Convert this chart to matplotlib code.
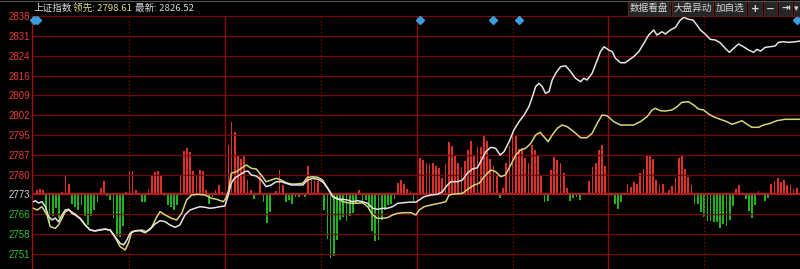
import matplotlib.pyplot as plt
from matplotlib.patches import Rectangle
from matplotlib.transforms import blended_transform_factory

plt.rcParams['font.family'] = ['Noto Sans CJK SC', 'DejaVu Sans']

# price axis: previous close and grid step
base = 2773.3
step = 7.25
tick_labels = ["2751", "2758", "2766", "2773", "2780", "2787", "2795",
               "2802", "2809", "2816", "2824", "2831", "2838"]

# white line: index price (minute, value)
white_m = [0, 0.5, 1.6, 2.6, 3.7, 4.7, 5.8, 6.8, 7.8, 8.9, 9.9, 11.0, 12.0, 13.0,
           14.6, 16.2, 17.7, 19.3, 20.8, 22.4, 24.0, 25.5, 27.1, 28.2, 29.2, 30.2,
           31.8, 33.3, 34.9, 36.5, 38.0, 39.6, 41.2, 42.7, 44.3, 45.8, 47.4, 49.0,
           50.5, 52.1, 53.7, 55.2, 56.8, 58.3, 59.9, 60.8, 61.9, 62.9, 64.5, 66.1,
           67.1, 68.2, 69.7, 71.3, 72.8, 74.4, 76.0, 77.5, 79.1, 80.7, 82.2, 84.3,
           85.8, 87.4, 89.0, 90.5, 92.1, 93.7, 95.2, 96.8, 98.3, 99.9, 101.5, 103.0,
           104.6, 106.2, 107.7, 109.3, 110.8, 112.4, 114.0, 116.1, 118.2, 119.7,
           120.75, 122.3, 124.4, 126.5, 128.0, 129.6, 130.7, 132.7, 134.3, 135.8,
           137.4, 139.0, 140.0, 141.6, 143.2, 144.7, 146.1, 147.3, 148.9, 150.4,
           152.0, 153.6, 155.1, 156.2, 157.2, 158.25, 159.3, 160.3, 161.4, 162.4,
           163.5, 165.0, 166.6, 168.2, 169.7, 171.3, 172.3, 173.3, 174.9, 176.5,
           177.5, 178.6, 180.1, 181.2, 182.2, 183.8, 185.3, 186.4, 187.9, 189.5,
           191.1, 192.6, 194.2, 195.2, 196.8, 197.8, 199.4, 201.0, 202.5, 203.6,
           205.1, 206.5, 207.7, 208.8, 210.3, 211.9, 213.5, 215.0, 216.6, 217.9,
           219.2, 220.75, 222.3, 223.9, 225.5, 226.5, 227.7, 229.1, 230.7, 232.2,
           233.25, 234.8, 236.4, 237.9, 240]
white_v = [2770.59, 2770.95, 2770.11, 2770.59, 2768.76, 2765.09, 2763.88, 2764.61,
           2763.26, 2765.71, 2767.55, 2767.80, 2766.34, 2765.71, 2764.50, 2762.05,
           2760.22, 2759.85, 2760.22, 2760.47, 2760.22, 2757.76, 2755.34, 2754.72,
           2756.55, 2759.01, 2759.85, 2759.96, 2759.23, 2760.47, 2762.41, 2763.62,
           2763.26, 2762.05, 2761.21, 2762.05, 2765.71, 2767.55, 2768.17, 2768.76,
           2768.54, 2768.17, 2768.39, 2768.76, 2769.01, 2772.42, 2777.33, 2779.16,
           2780.37, 2781.58, 2781.84, 2780.37, 2780.01, 2778.54, 2776.09, 2776.71,
           2777.92, 2777.92, 2777.33, 2776.71, 2776.71, 2776.71, 2778.54, 2779.16,
           2778.80, 2777.92, 2775.50, 2772.42, 2771.47, 2771.47, 2771.21, 2770.59,
           2770.95, 2770.59, 2770.00, 2768.17, 2767.80, 2768.17, 2768.17, 2768.76,
           2770.00, 2770.22, 2770.48, 2770.40, 2771.21, 2772.42, 2773.04, 2773.30,
           2774.25, 2776.71, 2777.92, 2777.92, 2778.54, 2781.00, 2782.57, 2783.05,
           2785.25, 2788.91, 2790.53, 2790.16, 2787.70, 2788.91, 2792.58, 2796.87,
           2799.91, 2802.36, 2805.41, 2809.07, 2812.74, 2813.98, 2812.74, 2810.32,
           2810.90, 2815.19, 2817.65, 2820.07, 2820.43, 2818.23, 2815.81, 2814.57,
           2815.81, 2815.19, 2817.65, 2822.52, 2825.56, 2827.40, 2826.19, 2825.56,
           2823.14, 2821.53, 2821.53, 2822.52, 2823.73, 2825.56, 2828.64, 2831.68,
           2833.52, 2831.68, 2832.89, 2832.05, 2833.52, 2834.51, 2837.18, 2838.17,
           2837.44, 2837.18, 2835.35, 2833.52, 2832.05, 2830.11, 2829.85, 2828.86,
           2826.81, 2825.34, 2826.81, 2828.39, 2827.40, 2826.19, 2825.34, 2826.44,
           2825.82, 2827.18, 2827.40, 2827.65, 2829.01, 2829.23, 2829.01, 2829.12,
           2829.48]

# yellow line: leading index (minute, value)
yellow_m = [0, 1.1, 2.6, 4.2, 5.2, 6.8, 7.8, 8.9, 9.9, 11.0, 13.0, 14.6, 16.2, 17.7,
            19.3, 20.8, 22.4, 24.0, 25.5, 27.1, 28.7, 29.7, 30.75, 32.3, 33.9, 35.4,
            37.0, 38.6, 39.6, 41.2, 43.25, 44.8, 46.4, 47.9, 49.5, 51.6, 53.7, 55.75,
            57.3, 59.4, 60.3, 61.1, 61.9, 63.5, 65.0, 66.6, 68.2, 69.7, 71.3, 72.8,
            74.4, 76.0, 77.5, 79.1, 80.7, 82.2, 84.3, 85.8, 87.4, 89.0, 90.5, 92.1,
            93.7, 95.2, 96.8, 98.3, 99.9, 101.5, 103.0, 104.6, 106.2, 107.7, 109.3,
            110.8, 112.4, 114.0, 116.1, 118.2, 119.7, 120.75, 122.3, 124.4, 127.0,
            129.1, 130.1, 131.7, 134.3, 136.4, 137.9, 139.5, 141.1, 143.2, 144.7,
            146.3, 147.8, 149.4, 151.0, 152.5, 154.1, 155.7, 157.2, 158.6, 159.8,
            161.1, 162.4, 164.0, 165.5, 167.1, 169.2, 171.3, 173.3, 174.9, 176.5,
            178.0, 179.6, 181.7, 183.8, 185.8, 187.9, 190.0, 192.1, 193.7, 194.7,
            196.3, 197.8, 199.9, 201.5, 203.0, 205.1, 206.7, 208.25, 209.8, 211.4,
            212.9, 215.0, 217.1, 218.7, 220.2, 221.8, 223.3, 224.9, 227.0, 228.6,
            230.7, 232.7, 235.3, 240]
yellow_v = [2768.17, 2767.55, 2768.76, 2765.71, 2761.43, 2760.84, 2762.05, 2764.50,
            2766.92, 2767.55, 2766.08, 2764.30, 2761.90, 2760.20, 2759.90, 2760.30,
            2760.60, 2760.10, 2757.50, 2754.10, 2752.89, 2755.45, 2759.59, 2760.00,
            2760.22, 2759.59, 2761.32, 2765.09, 2766.92, 2765.71, 2764.50, 2763.88,
            2766.34, 2771.21, 2773.04, 2773.30, 2773.04, 2771.83, 2771.47, 2770.59,
            2771.94, 2774.88, 2781.00, 2781.58, 2782.83, 2784.04, 2782.83, 2782.57,
            2780.37, 2777.92, 2778.54, 2779.16, 2778.54, 2777.55, 2777.07, 2777.07,
            2777.33, 2779.53, 2779.75, 2779.53, 2778.54, 2775.50, 2772.42, 2771.83,
            2770.59, 2770.22, 2770.00, 2770.00, 2770.22, 2768.76, 2765.71, 2764.50,
            2764.50, 2764.72, 2765.71, 2766.34, 2766.56, 2766.56, 2765.71, 2767.55,
            2768.76, 2769.38, 2770.00, 2770.59, 2773.04, 2773.41, 2773.67, 2775.50,
            2776.71, 2777.33, 2779.75, 2782.21, 2781.58, 2779.75, 2780.37, 2784.04,
            2787.70, 2789.54, 2790.16, 2791.99, 2795.03, 2796.02, 2794.41, 2792.58,
            2795.03, 2797.49, 2798.70, 2798.08, 2796.24, 2794.04, 2794.04, 2795.66,
            2799.32, 2802.36, 2802.11, 2799.91, 2798.70, 2798.70, 2798.70, 2799.91,
            2801.74, 2804.20, 2804.82, 2803.94, 2803.83, 2804.20, 2805.41, 2807.02,
            2807.24, 2806.03, 2804.56, 2804.20, 2802.73, 2801.74, 2800.79, 2799.91,
            2798.96, 2799.54, 2800.27, 2799.07, 2797.86, 2797.86, 2798.70, 2799.32,
            2800.27, 2800.79, 2800.79]

# buy/sell strength bars, one per minute (0 .. 240)
strength = [
    0, 4, 5, 4, -19, -32, -22, -14, -24, 2,
    18, 10, -10, -13, -16, -11, -22, -31, -22, -16,
    -8, 6, 13, -2, -6, -24, -42, -43, -32, 2,
    23, 23, 4, 1, -8, -8, 5, 19, 22, 23,
    19, -2, -11, -13, -16, -11, 18, 43, 46, 42,
    23, 18, 24, 23, 4, -10, -3, 4, 9, 2,
    0, 49, 72, 62, 38, 35, 38, 14, 4, -5,
    1, 20, -8, -29, -18, 0, 3, 24, 9, -8,
    -6, -10, -3, -3, -1, -3, 28, 14, 13, 13,
    0, -16, -45, -64, -62, -46, -26, -23, -27, -22,
    -19, -10, 4, -7, -6, -14, -37, -47, -46, -26,
    -16, -11, -10, -5, 11, 14, 10, 5, 3, -7,
    0, 36, 34, 31, 30, 31, 28, 26, 16, 30,
    52, 48, 38, 31, 27, 33, 44, 53, 39, 47,
    47, 59, 53, 35, 28, 19, -4, 6, 31, 48,
    60, 58, 45, 46, 36, 31, 49, 44, 38, 19,
    -8, -7, 24, 37, 34, 31, 21, 6, -7, -4,
    -3, -6, 1.5, 1.5, 13, 27, 31, 44, 49, 28,
    12, -2, -10, -15, -8, 1.6, 10, 7, 12, 10,
    21, 25, 39, 38, 35, 14, 9, 10, 1.6, 4,
    8, 16, 36, 39, 25, 17, 9, -10, -10, -18,
    -23, -27, -27, -28, -28, -34, -30, -32, -26, -12,
    5, 9, 0.5, -5, -17, -24, -11, 3, 0.5, -7,
    -4, 10, 13, 16, 12, 14, 9, 9, 5, 6,
    0]
minutes = list(range(len(strength)))

# event markers along the top
event_m = [0, 1, 121, 144, 152, 239]

header_name = "上证指数"
header_lead = "领先: 2798.61"
header_last = "最新: 2826.52"
buttons = ["数据看盘", "大盘异动", "加自选", "+", "−", "⇥", "▾"]

W, H = 800, 269
fig = plt.figure(figsize=(8, 2.69), dpi=100, facecolor="black")
rect = [32 / W, 0, 768 / W, (H - 16.3) / H]

axb = fig.add_axes(rect, facecolor="black")
ax = fig.add_axes(rect, sharex=axb)
ax.patch.set_visible(False)
ax.set_zorder(axb.get_zorder() + 1)

# bars
colors = ["#de2f2a" if s > 0 else "#1fb41f" for s in strength]
axb.bar(minutes, strength, width=0.55, color=colors, linewidth=0)
axb.set_ylim(-74.7, 178.0)
axb.set_yticks([])
for sp in axb.spines.values():
    sp.set_visible(False)

ticks = [base + k * step for k in range(-3, 10)]
ax.set_ylim(base - 3.777 * step, base + 9 * step)
ax.set_xlim(-0.5, 240)

for t in ticks:
    if abs(t - base) < 1e-6:
        continue
    ax.axhline(t, color="#780808", lw=0.9, zorder=1, clip_on=False)
for m in [60, 120, 180]:
    ax.axvline(m, color="#8c0a0a", lw=1.0, zorder=1)
for m in [30, 90, 150, 210]:
    ax.axvline(m, color="#8c0a0a", lw=0.9, ls=(0, (1, 2)), zorder=1)
ax.axhline(base, color="#b01c1c", lw=1.6, zorder=2)

ax.plot(yellow_m, yellow_v, color="#d6d67a", lw=1.1, zorder=3)
ax.plot(white_m, white_v, color="#e4e4e4", lw=1.1, zorder=4)

tr = blended_transform_factory(ax.transData, ax.transAxes)
ax.plot(event_m, [1 - 3.8 / (H - 16.3)] * len(event_m), "D", ms=4.2,
        color="#3a9fdc", transform=tr, clip_on=False, zorder=5)

ax.set_xticks([])
ax.set_yticks(ticks, tick_labels)
ax.tick_params(axis="y", length=0, pad=1.2, labelsize=7)
for t, lab in zip(ticks, ax.get_yticklabels()):
    lab.set_family(["Liberation Sans", "DejaVu Sans"])
    if abs(t - base) < 1e-6:
        lab.set_color("#c8d2dc")
    elif t > base:
        lab.set_color("#e63c38")
    else:
        lab.set_color("#2ec42e")
for name, sp in ax.spines.items():
    sp.set_visible(name == "left")
ax.spines["left"].set_color("#a01010")
ax.spines["left"].set_linewidth(1.0)

# header
yc = 1 - 8 / H
fig.text(33 / W, yc, header_name, color="#dcdcdc", fontsize=6.9, va="center")
fig.text(73 / W, yc, header_lead, color="#dede8c", fontsize=6.9, va="center")
fig.text(135 / W, yc, header_last, color="#d8d8d8", fontsize=6.9, va="center")

box_px = [(628, 670), (672, 713), (715, 746), (748, 762), (764, 777), (779, 792), (794, 808)]
text_px = [649, 692.5, 730.5, 755, 770.5, 785.5, 796.5]
for lab, (x0, x1), xt in zip(buttons, box_px, text_px):
    fig.patches.append(Rectangle((x0 / W, 1 - 16 / H), (x1 - x0) / W, 15 / H,
                                 transform=fig.transFigure, facecolor="#262626",
                                 edgecolor="#5a1c1c", lw=0.8))
    bold = lab in ["+", "−", "⇥", "▾"]
    fig.text(xt / W, 1 - 8.5 / H, lab, color="#d6d6d6",
             fontsize=(6.5 if lab == "▾" else 7.5) if bold else 6.9,
             ha="center", va="center",
             fontweight="bold" if bold else "normal",
             family=["DejaVu Sans"] if bold else ["Noto Sans CJK SC", "DejaVu Sans"])

fig.add_artist(plt.Line2D([0, 1], [1 - 0.5 / H] * 2, color="#505050", lw=0.8,
                          transform=fig.transFigure))

fig.savefig("out.png", dpi=100, facecolor="black")
